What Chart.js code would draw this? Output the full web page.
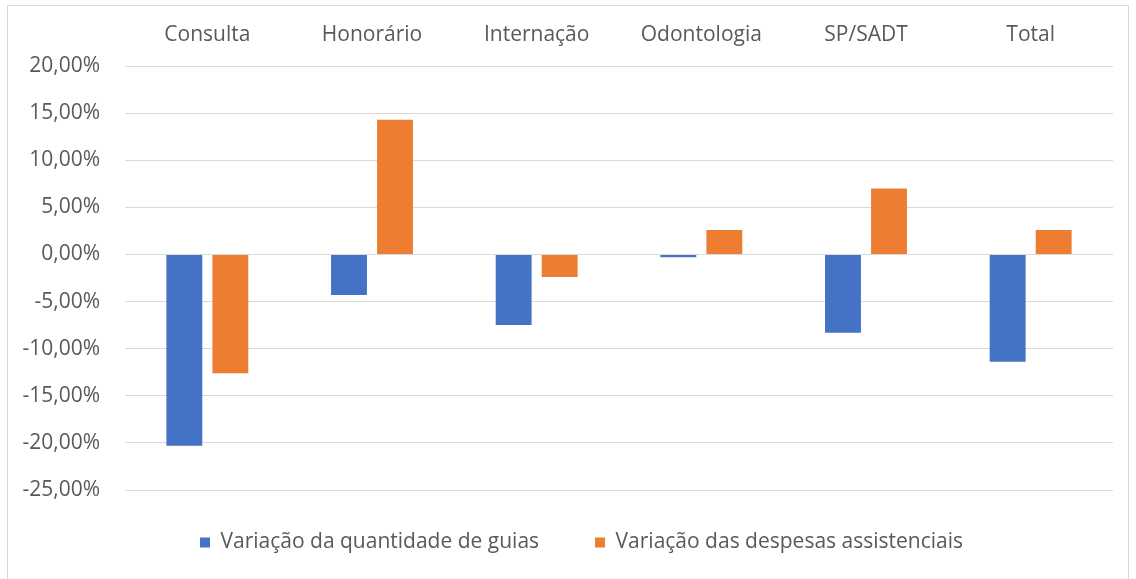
<!DOCTYPE html>
<html>
  <head>
    <title>Variação</title>
    <script src="https://cdn.jsdelivr.net/npm/chart.js"></script>
    <style>
      body {
        margin: 0;
        background: #fff;
        font-family: "Open Sans", sans-serif;
      }
      .frame {
        position: absolute;
        left: 7px;
        top: 5px;
        width: 1120px;
        height: 580px;
        border: 1px solid #d9d9d9;
        border-bottom: none;
      }
      .box {
        position: relative;
        width: 1120px;
        height: 573px;
      }
    </style>
  </head>
  <body>
    <div class="frame">
      <div class="box">
        <canvas id="chart"></canvas>
      </div>
    </div>

    <script>
      const categories = ['Consulta', 'Honorário', 'Internação', 'Odontologia', 'SP/SADT', 'Total']
      const guias = [-20.3, -4.3, -7.5, -0.3, -8.3, -11.4]
      const despesas = [-12.6, 14.3, -2.4, 2.6, 7.0, 2.6]
      const seriesNames = ['Variação da quantidade de guias', 'Variação das despesas assistenciais']

      const textColor = '#595959'
      const axisFont = { family: '"Open Sans", sans-serif', size: 21 }

      // nudge the legend: up closer to the plot (padding also sets item gap) and a bit right
      const legendShift = {
        id: 'legendShift',
        afterUpdate(chart) {
          const lg = chart.legend
          lg.top -= 14
          lg.bottom -= 14
          lg.left += 21
          lg.right += 21
        }
      }

      const ctx = document.getElementById('chart').getContext('2d')

      new Chart(ctx, {
        type: 'bar',
        data: {
          labels: categories,
          datasets: [
            {
              label: seriesNames[0],
              data: guias,
              backgroundColor: '#4472C4',
              categoryPercentage: 0.559,
              barPercentage: 0.78
            },
            {
              label: seriesNames[1],
              data: despesas,
              backgroundColor: '#ED7D31',
              categoryPercentage: 0.559,
              barPercentage: 0.78
            }
          ]
        },
        options: {
          responsive: true,
          maintainAspectRatio: false,
          animation: false,
          layout: {
            padding: { top: 0, right: 15, bottom: 2, left: 0 }
          },
          scales: {
            x: {
              position: 'top',
              grid: { display: false },
              border: { display: false },
              ticks: { color: textColor, font: axisFont, padding: 10 },
              afterFit: scale => { scale.height = 60 }
            },
            y: {
              min: -25,
              max: 20,
              grid: { color: '#d9d9d9', drawTicks: false },
              border: { display: false },
              ticks: {
                stepSize: 5,
                color: textColor,
                font: axisFont,
                padding: 25,
                callback: v => v.toFixed(2).replace('.', ',') + '%'
              },
              afterFit: scale => { scale.width = 117 }
            }
          },
          plugins: {
            legend: {
              position: 'bottom',
              labels: {
                color: textColor,
                font: axisFont,
                boxWidth: 10,
                boxHeight: 10,
                padding: 56
              }
            },
            tooltip: { enabled: false }
          }
        },
        plugins: [legendShift]
      })
    </script>
  </body>
</html>
